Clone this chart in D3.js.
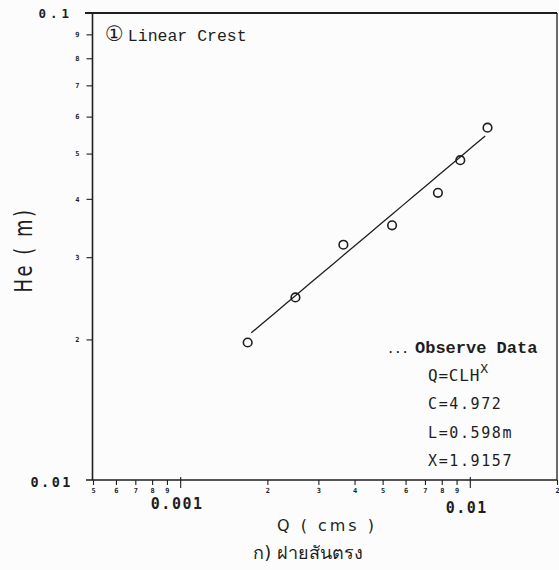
<!DOCTYPE html>
<html>
<head>
<meta charset="utf-8">
<script src="https://cdn.jsdelivr.net/npm/d3@7"></script>
<style>
  html, body { margin: 0; padding: 0; background: #fcfcfc; }
  svg { display: block; }
</style>
</head>
<body>
<svg id="chart" width="559" height="570"></svg>
<script>
// Observed discharge Q (cms) and effective head He (m), linear crest weir
const dischargeQ = [0.00171, 0.00250, 0.00366, 0.00539, 0.00776, 0.00927, 0.01151];
const headHe     = [0.0197, 0.0246, 0.0319, 0.0351, 0.0412, 0.0484, 0.0568];

// Rating equation Q = C·L·He^X
const coefC = 4.972;
const crestL = 0.598;
const expX = 1.9157;
const fitQRange = [0.00176, 0.01130];

// Axis ticks (log cycles) and their labels
const xTicks = [0.0005, 0.0006, 0.0007, 0.0008, 0.0009, 0.001, 0.002, 0.003, 0.004,
                0.005, 0.006, 0.007, 0.008, 0.009, 0.01, 0.02];
const xMajor = [0.001, 0.01];
const xMajorLabels = ["0.001", "0.01"];
const yTicks = [0.02, 0.03, 0.04, 0.05, 0.06, 0.07, 0.08, 0.09];
const yMajor = [0.01, 0.1];
const yMajorLabels = ["0.01", "0.1"];

const legendLines = ["C=4.972", "L=0.598m", "X=1.9157"];

const ink = "#1e1e1e";
const svg = d3.select("#chart");

const x = d3.scaleLog().domain([0.0005, 0.02]).range([93, 557]);
const y = d3.scaleLog().domain([0.01, 0.1]).range([480, 13]);

// leading digit of a tick value within its decade
const mant = v => Math.round(v / Math.pow(10, Math.floor(Math.log10(v) + 1e-9)));

// Frame
svg.append("line").attr("x1", 85).attr("x2", 557).attr("y1", y(0.1)).attr("y2", y(0.1))
  .attr("stroke", ink).attr("stroke-width", 2);
svg.append("line").attr("x1", 557).attr("x2", 557).attr("y1", y(0.1)).attr("y2", y(0.01))
  .attr("stroke", ink).attr("stroke-width", 1.3);

// Bottom axis
const xAxis = d3.axisBottom(x).tickValues(xTicks)
  .tickSize(0).tickFormat(d => xMajor.includes(d) ? "" : mant(d));
const gx = svg.append("g").attr("transform", `translate(0,${y(0.01)})`).call(xAxis);
gx.select(".domain").attr("d", `M86,0H557`).attr("stroke", ink).attr("stroke-width", 1.6);
gx.selectAll(".tick text").attr("y", 13).attr("dy", 0)
  .attr("font-family", "DejaVu Sans Mono").attr("font-weight", "bold")
  .attr("font-size", 7).attr("fill", ink);
gx.selectAll(".tick").append("line")
  .attr("y1", d => xMajor.includes(d) ? -3 : 0)
  .attr("y2", d => xMajor.includes(d) ? 8 : 5)
  .attr("stroke", ink).attr("stroke-width", 1.1);

svg.selectAll(".xmajor").data(xMajor).join("text")
  .attr("x", d => x(d) - 3).attr("y", (d, i) => 509 + i * 4)
  .attr("text-anchor", "middle")
  .attr("font-family", "DejaVu Sans Mono").attr("font-weight", "bold")
  .attr("font-size", 15).attr("letter-spacing", 1.5).attr("fill", ink)
  .text((d, i) => xMajorLabels[i]);

// Left axis
const yAxis = d3.axisLeft(y).tickValues(yTicks).tickSize(6).tickPadding(7)
  .tickFormat(d => mant(d));
const gy = svg.append("g").attr("transform", `translate(${x(0.0005) - 0.5},0)`).call(yAxis);
gy.select(".domain").attr("d", `M0,${y(0.1)}V${y(0.01)}`).attr("stroke", ink).attr("stroke-width", 1.6);
gy.selectAll(".tick line").attr("stroke", ink).attr("stroke-width", 1.1);
gy.selectAll(".tick text").attr("font-family", "DejaVu Sans Mono").attr("font-weight", "bold")
  .attr("font-size", 7).attr("fill", ink);

svg.selectAll(".ymajor").data(yMajor).join("text")
  .attr("x", 73).attr("y", (d, i) => y(d) + (i === 0 ? 7 : 5))
  .attr("text-anchor", "end")
  .attr("font-family", "DejaVu Sans Mono").attr("font-weight", "bold")
  .attr("font-size", (d, i) => i === 0 ? 13.5 : 12.5)
  .attr("letter-spacing", (d, i) => i === 0 ? 2.5 : 4).attr("fill", ink)
  .text((d, i) => yMajorLabels[i]);

// Fitted rating curve He = (Q / (C·L))^(1/X)
const fitPts = d3.range(0, 21).map(i => {
  const q = Math.exp(Math.log(fitQRange[0]) + i / 20 * (Math.log(fitQRange[1]) - Math.log(fitQRange[0])));
  return [q, Math.pow(q / (coefC * crestL), 1 / expX)];
});
svg.append("path")
  .attr("d", d3.line().x(d => x(d[0])).y(d => y(d[1]))(fitPts))
  .attr("fill", "none").attr("stroke", ink).attr("stroke-width", 1.3);

// Observed points
svg.selectAll(".obs").data(dischargeQ).join("circle")
  .attr("cx", d => x(d)).attr("cy", (d, i) => y(headHe[i]))
  .attr("r", 4.3).attr("fill", "none").attr("stroke", ink).attr("stroke-width", 1.6);

// Title inside the plot
const title = svg.append("text").attr("x", 105).attr("y", 41).attr("fill", ink);
title.append("tspan").attr("font-family", "DejaVu Sans").attr("font-size", 21).text("\u2460");
title.append("tspan").attr("font-family", "Liberation Mono").attr("font-size", 16.5)
  .attr("dx", 4).text("Linear Crest");

// Legend block
svg.append("text").attr("x", 387).attr("y", 353)
  .attr("font-family", "Liberation Mono").attr("font-weight", "bold")
  .attr("font-size", 12).attr("fill", ink)
  .text("...");
svg.append("text").attr("x", 415).attr("y", 353)
  .attr("font-family", "Liberation Mono").attr("font-weight", "bold")
  .attr("font-size", 17).attr("fill", ink)
  .text("Observe Data");
const eq = svg.append("text").attr("x", 428).attr("y", 381)
  .attr("font-family", "DejaVu Sans Mono").attr("font-size", 16)
  .attr("letter-spacing", 0.8).attr("fill", ink);
eq.append("tspan").text("Q=CLH");
eq.append("tspan").attr("dy", -8).attr("font-size", 13).text("X");
svg.selectAll(".leg").data(legendLines).join("text")
  .attr("x", 428).attr("y", (d, i) => 409 + i * 28.5)
  .attr("font-family", "DejaVu Sans Mono").attr("font-size", 15)
  .attr("letter-spacing", 1.6).attr("fill", ink)
  .text(d => d);

// Axis titles
svg.append("text").attr("x", 327).attr("y", 531)
  .attr("text-anchor", "middle")
  .attr("font-family", "DejaVu Sans").attr("font-size", 16)
  .attr("letter-spacing", 3).attr("fill", ink)
  .text("Q ( cms )");
svg.append("text")
  .attr("transform", "translate(32,250) rotate(-90) scale(1,1.4)")
  .attr("text-anchor", "middle")
  .attr("font-family", "DejaVu Sans").attr("font-size", 18)
  .attr("letter-spacing", 2.5).attr("fill", ink)
  .text("He ( m)");
svg.append("text").attr("x", 308).attr("y", 559)
  .attr("text-anchor", "middle")
  .attr("font-family", "DejaVu Sans, Noto Sans, sans-serif").attr("font-size", 18).attr("fill", ink)
  .text("ก) ฝายสันตรง");
</script>
</body>
</html>
